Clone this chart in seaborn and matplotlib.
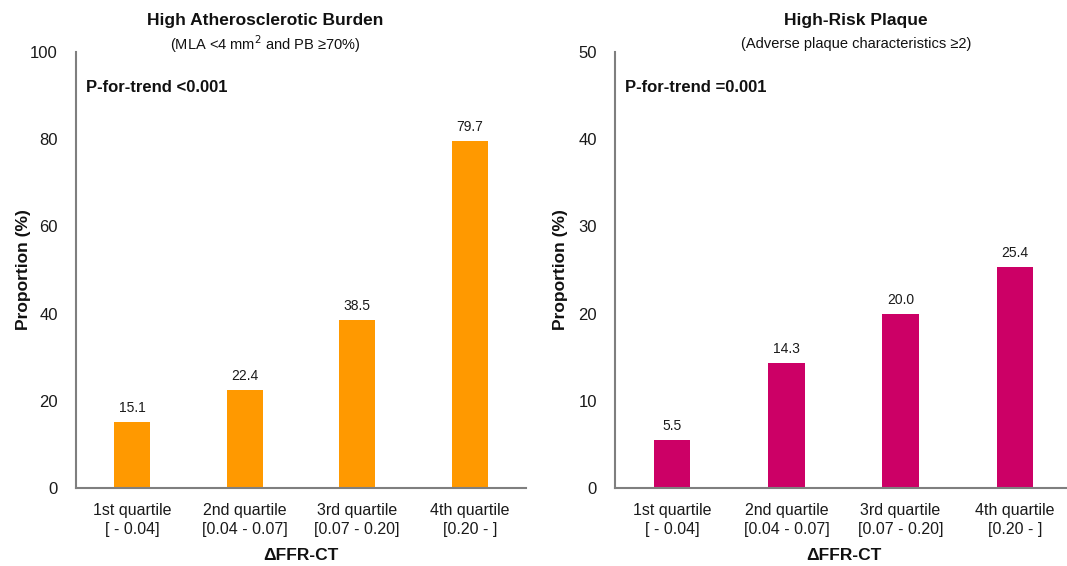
import matplotlib
matplotlib.use("Agg")
import matplotlib.pyplot as plt
import seaborn as sns
import pandas as pd

categories = ["1st quartile\n[ - 0.04]", "2nd quartile\n[0.04 - 0.07]",
              "3rd quartile\n[0.07 - 0.20]", "4th quartile\n[0.20 - ]"]
burden_values = [15.1, 22.4, 38.5, 79.7]
hrp_values = [5.5, 14.3, 20.0, 25.4]
burden_ticks = [0, 20, 40, 60, 80, 100]
hrp_ticks = [0, 10, 20, 30, 40, 50]

sns.set_theme(style="white")
plt.rcParams['font.family'] = ['Liberation Sans', 'DejaVu Sans']

W, H = 1067, 566
fig = plt.figure(figsize=(W / 100, H / 100), dpi=100)

def px_axes(left, top, right, bottom):
    return fig.add_axes([left / W, 1 - bottom / H, (right - left) / W, (bottom - top) / H])

panels = [
    dict(box=(76, 52, 526, 488), vals=burden_values, ticks=burden_ticks, color="#FF9900",
         ptext="P-for-trend <0.001", title="High Atherosclerotic Burden",
         sub="(MLA <4 mm$^{2}$ and PB ≥70%)", tx=265, ylx=31),
    dict(box=(615, 52, 1072, 488), vals=hrp_values, ticks=hrp_ticks, color="#CC0066",
         ptext="P-for-trend =0.001", title="High-Risk Plaque",
         sub="(Adverse plaque characteristics ≥2)", tx=856, ylx=568),
]

for p in panels:
    ax = px_axes(*p["box"])
    df = pd.DataFrame({"cat": categories, "val": p["vals"]})
    sns.barplot(data=df, x="cat", y="val", color=p["color"], width=0.32,
                saturation=1, ax=ax, edgecolor="none")
    ax.set_xlim(-0.5, 3.5)
    ax.set_ylim(p["ticks"][0], p["ticks"][-1])
    ax.set_yticks(p["ticks"])
    ax.tick_params(axis="y", length=0, pad=13, labelsize=12, labelcolor="#1a1a1a")
    ax.tick_params(axis="x", length=0, pad=11, labelsize=11.5, labelcolor="#1a1a1a")
    for lab in ax.get_xticklabels():
        lab.set_linespacing(1.3)
    for s in ["top", "right"]:
        ax.spines[s].set_visible(False)
    for s in ["left", "bottom"]:
        ax.spines[s].set_color("#7f7f7f")
        ax.spines[s].set_linewidth(1.5)
    ax.set_ylabel("Proportion (%)", fontsize=12.5, fontweight="bold", color="#111111")
    x0 = p["box"][0]
    ax.yaxis.set_label_coords((p["ylx"] - x0) / (p["box"][2] - x0), 0.5)
    ax.set_xlabel("ΔFFR-CT", fontsize=12.5, fontweight="bold", labelpad=8, color="#111111")
    ax.bar_label(ax.containers[0], fmt="%.1f", padding=5, fontsize=10, color="#1a1a1a")
    ax.annotate(p["ptext"], xy=(0, 1), xycoords="axes fraction", xytext=(10, -35),
                textcoords="offset pixels", ha="left", va="center",
                fontsize=12, fontweight="bold", color="#111111")
    fig.text(p["tx"] / W, 1 - 21 / H, p["title"], ha="center", va="center",
             fontsize=12.5, fontweight="bold", color="#111111")
    fig.text(p["tx"] / W, 1 - 44 / H, p["sub"], ha="center", va="center",
             fontsize=10.5, color="#111111")

fig.savefig("out.png", dpi=100)
